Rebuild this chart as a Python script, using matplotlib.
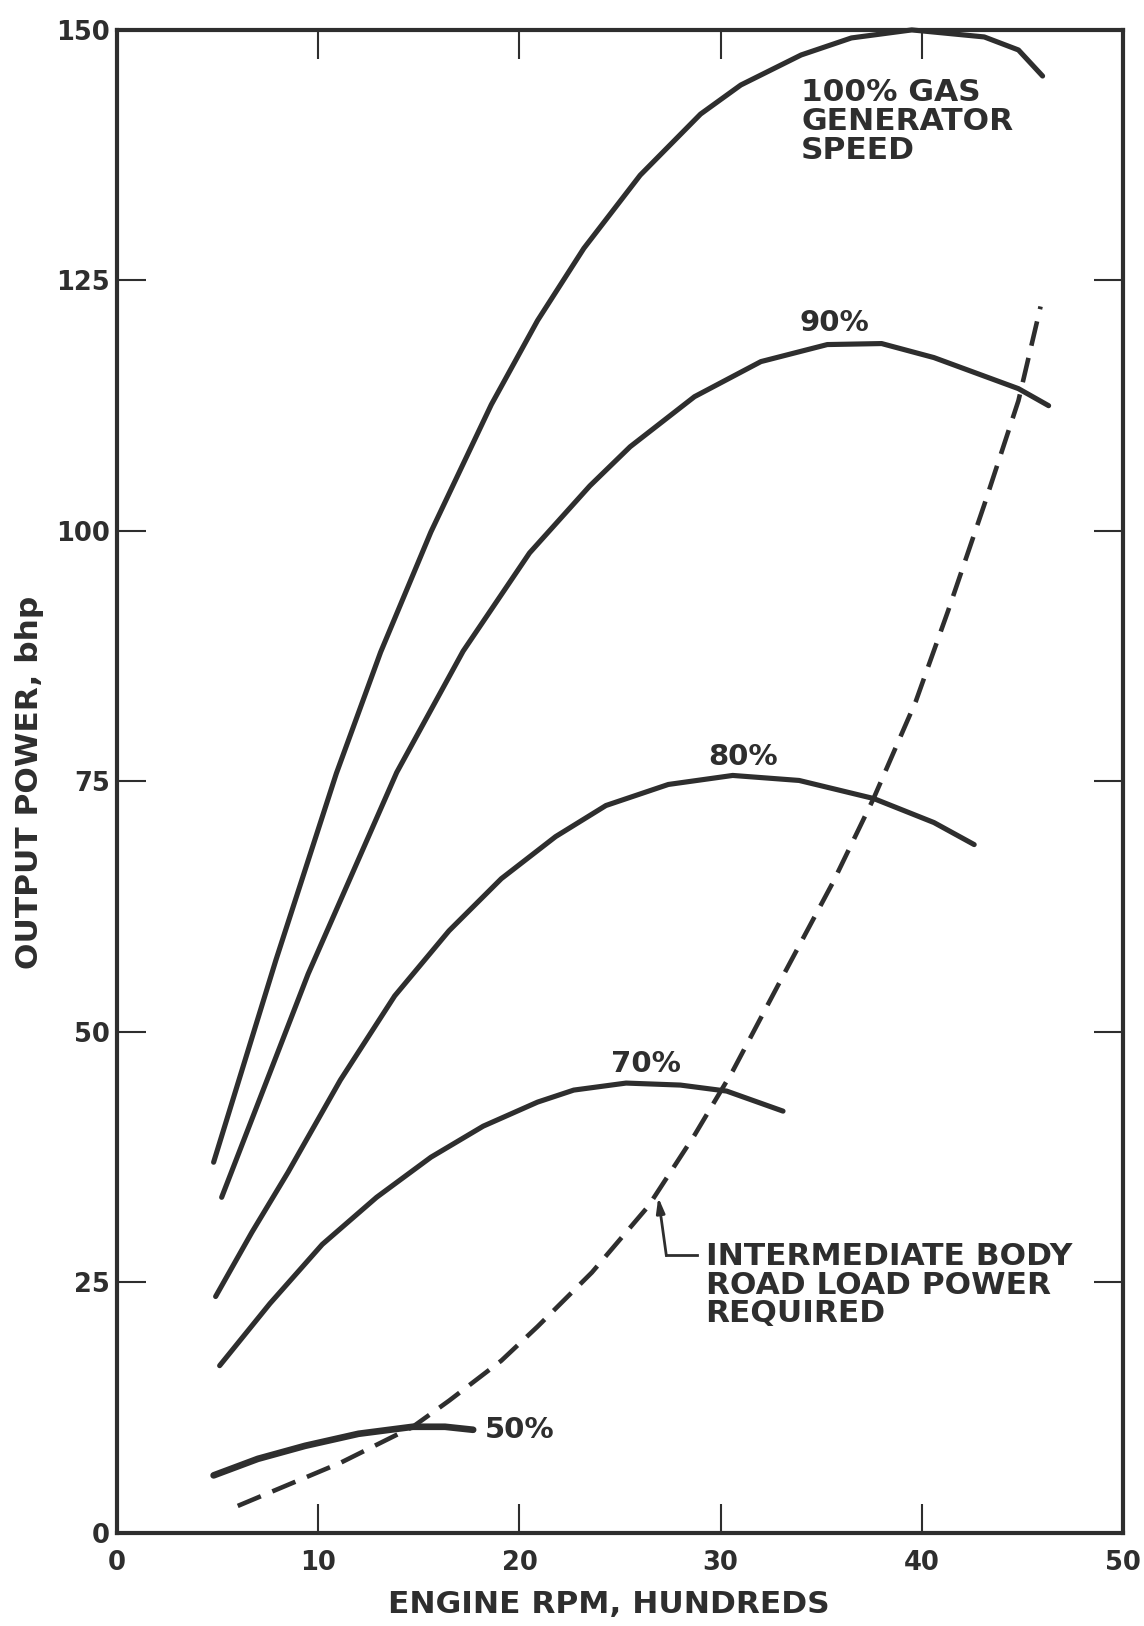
import matplotlib
matplotlib.use('Agg')
import matplotlib.pyplot as plt
from matplotlib import font_manager

# values (engine rpm in hundreds, output power in bhp)
rpm_100 = [4.8, 7.9, 10.9, 13.1, 15.6, 18.6, 20.9, 23.2, 26.0, 29.0, 31.0, 34.0, 36.5, 39.5, 43.1, 44.8, 46.0]
bhp_100 = [37.0, 57.2, 75.8, 87.9, 99.9, 112.6, 121.0, 128.2, 135.5, 141.6, 144.5, 147.5, 149.2, 150.0, 149.3, 148.0, 145.4]

rpm_90 = [5.2, 9.5, 13.9, 17.2, 20.5, 23.5, 25.5, 28.7, 32.0, 35.3, 38.0, 40.6, 44.8, 46.3]
bhp_90 = [33.5, 55.8, 75.9, 88.0, 97.8, 104.5, 108.4, 113.4, 116.9, 118.6, 118.7, 117.3, 114.2, 112.5]

rpm_80 = [4.9, 6.7, 8.5, 11.1, 13.8, 16.5, 19.1, 21.8, 24.3, 27.4, 30.6, 33.9, 37.6, 40.6, 42.6]
bhp_80 = [23.6, 30.0, 36.0, 45.2, 53.6, 60.1, 65.3, 69.5, 72.6, 74.7, 75.6, 75.1, 73.3, 70.9, 68.7]

rpm_70 = [5.1, 7.6, 10.2, 12.9, 15.6, 18.2, 20.9, 22.7, 25.3, 28.0, 30.3, 33.1]
bhp_70 = [16.7, 22.9, 28.8, 33.5, 37.5, 40.6, 43.0, 44.2, 44.9, 44.7, 44.1, 42.1]

rpm_50 = [4.8, 7.0, 9.35, 12.0, 14.7, 16.3, 17.7]
bhp_50 = [5.75, 7.4, 8.7, 9.9, 10.6, 10.6, 10.3]

rpm_road = [6.0, 11.1, 14.7, 16.5, 19.1, 20.9, 23.6, 26.4, 28.7, 30.6, 33.1, 35.6, 37.6, 39.7, 41.3, 43.1, 44.8, 45.9]
bhp_road = [2.7, 7.0, 10.6, 13.2, 17.2, 20.6, 26.0, 32.6, 39.7, 46.1, 55.6, 65.0, 73.3, 83.0, 92.0, 102.6, 113.0, 122.4]

x_ticks = [0, 10, 20, 30, 40, 50]
y_ticks = [0, 25, 50, 75, 100, 125, 150]

ink = '#2e2e2e'

# condensed lettering for the axes if the narrow face is there
names = {f.name for f in font_manager.fontManager.ttflist}
if 'Liberation Sans Narrow' in names:
    axis_font, label_size, tick_size = 'Liberation Sans Narrow', 30, 23
else:
    axis_font, label_size, tick_size = 'DejaVu Sans', 22.5, 18.5
note_font = 'DejaVu Sans'

plt.rcParams['lines.scale_dashes'] = False

fig = plt.figure(figsize=(11.44, 16.26), dpi=100)
ax = fig.add_axes([0.1023, 0.0572, 0.8794, 0.9244])

for rpm, bhp, lw in [(rpm_100, bhp_100, 3.7), (rpm_90, bhp_90, 3.7), (rpm_80, bhp_80, 3.7),
                     (rpm_70, bhp_70, 3.7), (rpm_50, bhp_50, 4.8)]:
    ax.plot(rpm, bhp, color=ink, lw=lw, solid_capstyle='round', solid_joinstyle='round', clip_on=False)

ax.plot(rpm_road, bhp_road, color=ink, lw=3.3, dashes=(18, 9), dash_capstyle='butt', clip_on=False)

# curve labels
ax.text(34.0, 145.2, '100% GAS\nGENERATOR\nSPEED', fontsize=22.5, fontweight='bold',
        family=note_font, color=ink, ha='left', va='top', linespacing=1.0)
ax.text(33.9, 120.0, '90%', fontsize=21, fontweight='bold', family=note_font, color=ink, va='baseline')
ax.text(29.4, 76.6, '80%', fontsize=21, fontweight='bold', family=note_font, color=ink, va='baseline')
ax.text(24.55, 46.0, '70%', fontsize=21, fontweight='bold', family=note_font, color=ink, va='baseline')
ax.text(18.3, 9.5, '50%', fontsize=21, fontweight='bold', family=note_font, color=ink, va='baseline')
ax.text(29.25, 29.0, 'INTERMEDIATE BODY\nROAD LOAD POWER\nREQUIRED', fontsize=22.5, fontweight='bold',
        family=note_font, color=ink, ha='left', va='top', linespacing=0.97)

# leader with arrow onto the dashed curve
ax.plot([28.8, 27.3], [27.7, 27.7], color=ink, lw=2)
ax.annotate('', xy=(26.9, 33.5), xytext=(27.3, 27.7),
            arrowprops=dict(arrowstyle='-|>,head_length=0.9,head_width=0.25', color=ink, lw=2,
                            shrinkA=0, shrinkB=0))

ax.set_xlim(0, 50)
ax.set_ylim(0, 150)
ax.set_xticks(x_ticks)
ax.set_yticks(y_ticks)
ax.tick_params(direction='in', length=21, width=1.5, color=ink, labelcolor=ink,
               top=True, right=True, labelsize=tick_size)
ax.tick_params(axis='x', pad=12)
ax.tick_params(axis='y', pad=5)
for lab in ax.get_xticklabels() + ax.get_yticklabels():
    lab.set_fontweight('bold')
    lab.set_family(axis_font)
for side in ax.spines.values():
    side.set_linewidth(3)
    side.set_color(ink)

fig.text(609 / 1144, 1 - 1613 / 1626, 'ENGINE RPM, HUNDREDS', fontsize=label_size, fontweight='bold',
         family=axis_font, color=ink, ha='center', va='baseline')
fig.text(38 / 1144, 1 - 782 / 1626, 'OUTPUT POWER, bhp', fontsize=label_size, fontweight='bold',
         family=axis_font, color=ink, ha='center', va='baseline', rotation=90, rotation_mode='anchor')

fig.savefig('out.png', dpi=100)
